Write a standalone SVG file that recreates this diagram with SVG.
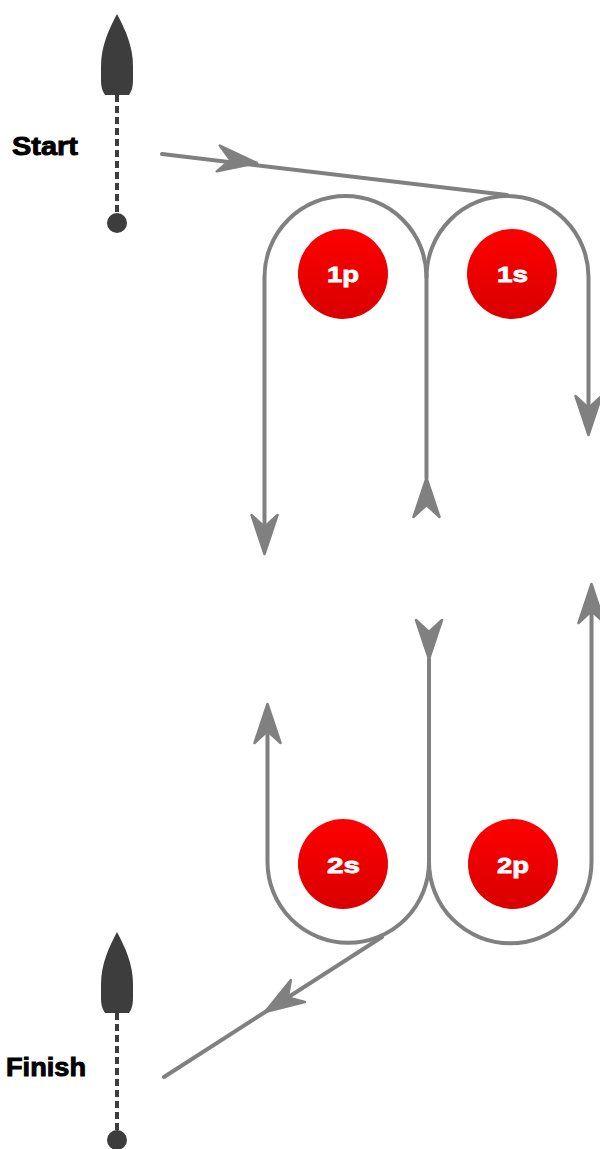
<svg xmlns="http://www.w3.org/2000/svg" xmlns:xlink="http://www.w3.org/1999/xlink" width="600" height="1149" viewBox="0 0 600 1149">
<style>
.course{fill:none;stroke:#808080;stroke-width:4;stroke-linecap:round;stroke-linejoin:round}
.ah{fill:#808080;stroke:#808080;stroke-width:2.5;stroke-linejoin:round}
.boat{fill:#3d3d3d}
.line{fill:none;stroke:#3d3d3d;stroke-width:4;stroke-dasharray:7 4}
.lbl{font-family:"Liberation Sans",Arial,sans-serif;font-weight:bold;font-size:25px;fill:#000;stroke:#000;stroke-width:0.9}
.mk{font-family:"Liberation Sans",Arial,sans-serif;font-weight:bold;font-size:22.5px;fill:#fff;stroke:#fff;stroke-width:0.8;text-anchor:middle}
</style>
<defs>
<linearGradient id="red" x1="0" y1="0" x2="0" y2="1">
<stop offset="0" stop-color="#ff0000"/>
<stop offset="1" stop-color="#d90000"/>
</linearGradient>
<path id="ah" d="M0,0 L-39,-13 L-27,0 L-39,13 Z"/>
<path id="boatShape" d="M0,0 C-8,15 -16,32 -16,52 L-16,66 C-16,74 -14,78 -12,81 L12,81 C14,78 16,74 16,66 L16,52 C16,32 8,15 0,0 Z"/>
</defs>

<g id="start-line">
<use xlink:href="#boatShape" class="boat" transform="translate(117,14)"/>
<line class="line" x1="117" y1="95" x2="117" y2="216"/>
<circle cx="117" cy="223" r="10" fill="#3d3d3d"/>
<text class="lbl" x="12" y="155" textLength="66" lengthAdjust="spacingAndGlyphs">Start</text>
</g>

<g id="finish-line">
<use xlink:href="#boatShape" class="boat" transform="translate(117,932)"/>
<line class="line" x1="117" y1="1013" x2="117" y2="1133"/>
<circle cx="117" cy="1140" r="10" fill="#3d3d3d"/>
<text class="lbl" x="6" y="1076" textLength="80" lengthAdjust="spacingAndGlyphs">Finish</text>
</g>

<g id="connectors">
<path class="course" d="M162,154 L507,195"/>
<path class="course" d="M264.5,528 V277 A81,81 0 0 1 426.5,277 V478"/>
<path class="course" d="M426.5,277 A81,81 0 0 1 588.5,277 V408"/>
<path class="course" d="M267.5,731 V862 A80.75,80.75 0 0 0 429,862 V659"/>
<path class="course" d="M429,862 A81.25,81.25 0 0 0 591.5,862 V611"/>
<path class="course" d="M164,1077 L382,937"/>
<use xlink:href="#ah" class="ah" transform="translate(257,163) rotate(6.7)"/>
<use xlink:href="#ah" class="ah" transform="translate(264.5,554) rotate(90)"/>
<use xlink:href="#ah" class="ah" transform="translate(426.5,478) rotate(-90)"/>
<use xlink:href="#ah" class="ah" transform="translate(588.5,435) rotate(90)"/>
<use xlink:href="#ah" class="ah" transform="translate(267.5,704) rotate(-90)"/>
<use xlink:href="#ah" class="ah" transform="translate(429,659) rotate(90)"/>
<use xlink:href="#ah" class="ah" transform="translate(591.5,584) rotate(-90)"/>
<use xlink:href="#ah" class="ah" transform="translate(265,1012) rotate(147.4)"/>
</g>

<g id="mark-1p">
<circle cx="343" cy="274" r="45" fill="url(#red)"/>
<text class="mk" x="343" y="282" textLength="32" lengthAdjust="spacingAndGlyphs">1p</text>
</g>
<g id="mark-1s">
<circle cx="512" cy="274" r="45" fill="url(#red)"/>
<text class="mk" x="512.5" y="282" textLength="31" lengthAdjust="spacingAndGlyphs">1s</text>
</g>
<g id="mark-2s">
<circle cx="343" cy="864" r="45" fill="url(#red)"/>
<text class="mk" x="343.5" y="873" textLength="33" lengthAdjust="spacingAndGlyphs">2s</text>
</g>
<g id="mark-2p">
<circle cx="513" cy="864" r="45" fill="url(#red)"/>
<text class="mk" x="513" y="873" textLength="32" lengthAdjust="spacingAndGlyphs">2p</text>
</g>
</svg>
